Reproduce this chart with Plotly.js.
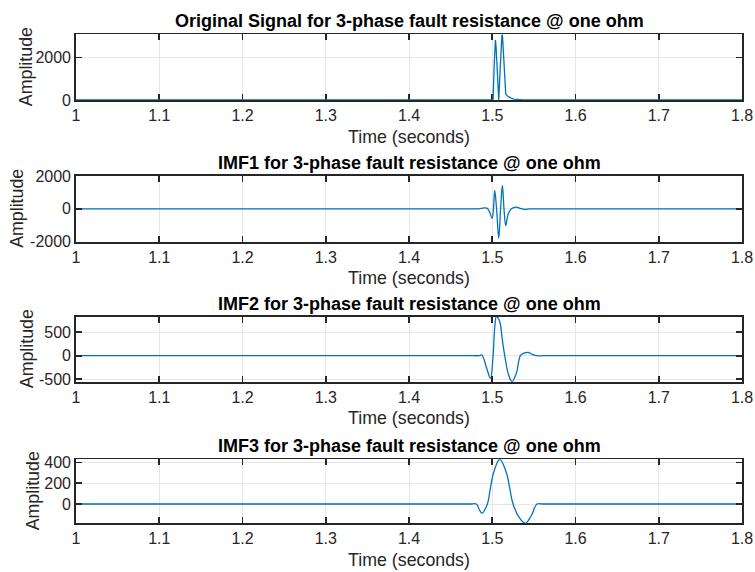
<!DOCTYPE html>
<html>
<head>
<meta charset="utf-8">
<script src="https://cdn.plot.ly/plotly-3.0.1.min.js"></script>
<style>html,body{margin:0;padding:0;background:#fff}#chart{width:755px;height:572px}</style>
</head>
<body>
<div id="chart"></div>
<script>
// ---- data ----
var titles = [
  "Original Signal for 3-phase fault resistance @ one ohm",
  "IMF1 for 3-phase fault resistance @ one ohm",
  "IMF2 for 3-phase fault resistance @ one ohm",
  "IMF3 for 3-phase fault resistance @ one ohm"
];
var xTickVals = [1, 1.1, 1.2, 1.3, 1.4, 1.5, 1.6, 1.7, 1.8];
var xTickText = ["1", "1.1", "1.2", "1.3", "1.4", "1.5", "1.6", "1.7", "1.8"];

var tSig = [1.0, 1.5, 1.501, 1.5022, 1.5032, 1.5038, 1.5046, 1.5062, 1.5078, 1.5092, 1.5106, 1.5116, 1.5122, 1.5132, 1.5148, 1.5162, 1.518, 1.520, 1.523, 1.526, 1.530, 1.537, 1.8];
var ySig = [0, 0, 0, 1500, 2550, 2840, 2500, 1200, 0, 1200, 2600, 3050, 3100, 2500, 1200, 280, 200, 140, 80, 40, 15, 0, 0];

var tImf1 = [1.0, 1.47, 1.478, 1.484, 1.489, 1.4935, 1.4965, 1.4998, 1.5014, 1.503, 1.5052, 1.5078, 1.510, 1.5122, 1.5141, 1.5162, 1.519, 1.523, 1.529, 1.534, 1.539, 1.545, 1.552, 1.56, 1.8];
var yImf1 = [0, 0, 0, 0, 50, 40, -150, -580, 0, 1125, 0, -1785, 0, 1430, 0, -1025, -350, 0, 100, 20, -35, 0, 0, 0, 0];

var tImf2 = [1.0, 1.47, 1.478, 1.484, 1.4875, 1.493, 1.4978, 1.501, 1.503, 1.505, 1.509, 1.512, 1.515, 1.5195, 1.5238, 1.529, 1.5338, 1.538, 1.543, 1.548, 1.553, 1.56, 1.57, 1.8];
var yImf2 = [0, 0, 0, 0, 14, -250, -481, 0, 600, 830, 723, 350, 0, -400, -553, -370, 0, 55, 72, 30, 0, 0, 0, 0];

var tImf3 = [1.0, 1.465, 1.474, 1.481, 1.4845, 1.4878, 1.491, 1.4942, 1.5016, 1.509, 1.517, 1.525, 1.5324, 1.5398, 1.547, 1.5538, 1.561, 1.57, 1.8];
var yImf3 = [0, 0, 0, 0, -55, -89, -55, 0, 300, 429, 300, 0, -130, -185, -110, 0, 0, 0, 0];

var yTickVals = [[0, 2000], [-2000, 0, 2000], [-500, 0, 500], [0, 200, 400]];
var yTickText = [["0", "2000"], ["-2000", "0", "2000"], ["-500", "0", "500"], ["0", "200", "400"]];
var yRanges = [[0, 3106], [-2000, 2000], [-553, 830], [-185, 429]];
var xTitle = "Time (seconds)";
var yTitle = "Amplitude";

// ---- chart ----
var series = [[tSig, ySig, 'linear'], [tImf1, yImf1, 'spline'], [tImf2, yImf2, 'spline'], [tImf3, yImf3, 'spline']];
var pxDomains = [[34.3, 100], [176, 241.7], [316.7, 381.7], [459.3, 523.3]];
var yTitleX = [26, 17, 27, 33];
var W = 755, H = 572;
var xDom = [76 / W, 742 / W];
var font = "Liberation Sans, Arial, Helvetica, sans-serif";
var dark = "#262626";

var data = [];
var layout = {
  width: W, height: H,
  margin: {l: 0, r: 0, t: 0, b: 0},
  paper_bgcolor: "#fff", plot_bgcolor: "#fff",
  showlegend: false,
  font: {family: font, color: dark},
  annotations: []
};

for (var i = 0; i < 4; i++) {
  var sfx = i === 0 ? "" : String(i + 1);
  data.push({
    x: series[i][0], y: series[i][1],
    type: "scatter", mode: "lines",
    line: {color: "#0072BD", width: 1.3, shape: series[i][2], smoothing: 1},
    xaxis: "x" + sfx, yaxis: "y" + sfx,
    hoverinfo: "skip"
  });
  var yd = [1 - pxDomains[i][1] / H, 1 - pxDomains[i][0] / H];
  layout["xaxis" + sfx] = {
    domain: xDom, anchor: "y" + sfx, range: [1, 1.8],
    tickmode: "array", tickvals: xTickVals, ticktext: xTickText,
    ticks: "inside", ticklen: 6, tickwidth: 1.6, tickcolor: dark,
    showline: true, linecolor: dark, linewidth: 1.8, mirror: "ticks",
    showgrid: true, gridcolor: "#e6e6e6", gridwidth: 1, zeroline: false,
    tickfont: {family: font, size: 16, color: dark},
    title: {text: xTitle, font: {family: font, size: 17.8, color: dark}, standoff: 7},
    layer: i === 0 ? "below traces" : "above traces",
    fixedrange: true
  };
  layout["yaxis" + sfx] = {
    domain: yd, anchor: "x" + sfx, range: yRanges[i],
    tickmode: "array", tickvals: yTickVals[i], ticktext: yTickText[i],
    ticks: "inside", ticklen: 6, tickwidth: 1.6, tickcolor: dark,
    showline: true, linecolor: dark, linewidth: 1.8, mirror: "ticks",
    showgrid: true, gridcolor: "#e6e6e6", gridwidth: 1, zeroline: false,
    tickfont: {family: font, size: 16, color: dark},
    fixedrange: true
  };
  layout.annotations.push({
    text: "<b>" + titles[i] + "</b>",
    xref: "paper", yref: "paper",
    x: (xDom[0] + xDom[1]) / 2, y: yd[1],
    xanchor: "center", yanchor: "bottom", yshift: 1,
    showarrow: false,
    font: {family: font, size: 18, color: "#000"}
  });
  layout.annotations.push({
    text: yTitle, textangle: -90,
    xref: "paper", yref: "paper",
    x: yTitleX[i] / W, y: (yd[0] + yd[1]) / 2,
    xanchor: "center", yanchor: "middle",
    showarrow: false,
    font: {family: font, size: 17.8, color: dark}
  });
}

Plotly.newPlot("chart", data, layout, {displayModeBar: false, staticPlot: true});
</script>
</body>
</html>
